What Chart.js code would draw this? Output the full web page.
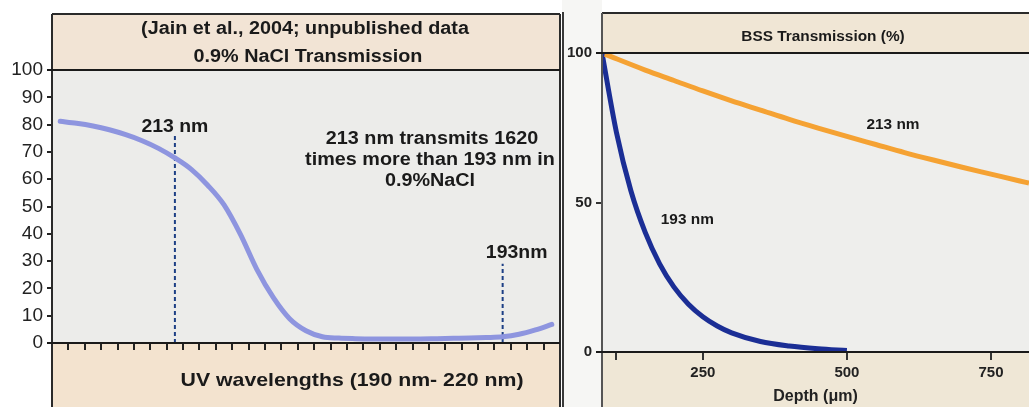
<!DOCTYPE html>
<html>
<head>
<meta charset="utf-8">
<script src="https://cdn.jsdelivr.net/npm/chart.js@4.4.1/dist/chart.umd.min.js"></script>
<style>
  html, body { margin: 0; padding: 0; background: #fff; overflow: hidden; }
  #wrap { position: relative; width: 1029px; height: 407px; }
  #left { position: absolute; left: 0; top: 0; }
  #right { position: absolute; left: 562px; top: 0; }
</style>
</head>
<body>
<div id="wrap">
  <canvas id="left" width="562" height="407" style="width:562px;height:407px"></canvas>
  <canvas id="right" width="467" height="407" style="width:467px;height:407px"></canvas>
</div>
<script>
// ---- left panel: 0.9% NaCl transmission vs wavelength (axis drawn 220 -> 190)
const wavelengths = [190, 191, 192, 193, 194, 195, 196, 197, 198, 199, 200,
                     201, 202, 203, 204, 205, 206, 207, 208, 209, 210,
                     211, 212, 213, 214, 215, 216, 217, 218, 219, 220];
const naclTransmission = [6.8, 4.8, 3.2, 2.3, 2.0, 1.8, 1.7, 1.6, 1.5, 1.5, 1.5,
                          1.5, 1.6, 1.8, 2.3, 4.5, 8.9, 16.7, 27.0, 39.8, 50.6,
                          57.8, 63.6, 67.8, 71.3, 74.1, 76.3, 78.1, 79.5, 80.5, 81.2];
const markerNm = [213, 193];
const markerTop = [76, 29];          // where the dashed lines stop (% value)
const markerText = ['213 nm', '193nm'];

// ---- right panel: BSS transmission vs depth
const depth213 = [80, 150, 200, 250, 300, 350, 400, 450, 500, 550, 600, 650, 700, 750, 800, 816];
const bss213 = [99.6, 94.3, 90.8, 87.3, 84.0, 80.9, 77.8, 74.9, 72.1, 69.4, 66.7, 64.2, 61.8, 59.5, 57.2, 56.5];
const depth193 = [75, 100, 125, 150, 175, 200, 225, 250, 275, 300, 350, 400, 450, 500];
const bss193 = [100, 73.5, 54, 40, 29.5, 21.7, 16, 11.8, 8.7, 6.4, 3.5, 2.0, 1.1, 0.5];
const depthTicks = [100, 250, 500, 750];
const depthLabels = ['', '250', '500', '750'];
const bssTicks = [0, 50, 100];

Chart.defaults.font.family = '"Liberation Sans", Arial, sans-serif';
Chart.defaults.color = '#1e1e1e';

// draw text squeezed/stretched horizontally (the scan is wider than tall)
function wideText(ctx, text, x, y, size, sx) {
  ctx.save();
  ctx.font = 'bold ' + size + 'px "Liberation Sans", Arial, sans-serif';
  ctx.fillStyle = '#1a1a1a';
  ctx.textAlign = 'center';
  ctx.textBaseline = 'middle';
  ctx.translate(x, y);
  ctx.scale(sx, 1);
  ctx.fillText(text, 0, 0);
  ctx.restore();
}

function line(ctx, x1, y1, x2, y2, color, w) {
  ctx.save();
  ctx.strokeStyle = color;
  ctx.lineWidth = w;
  ctx.beginPath();
  ctx.moveTo(x1, y1);
  ctx.lineTo(x2, y2);
  ctx.stroke();
  ctx.restore();
}

const leftDecor = {
  id: 'leftDecor',
  beforeDraw(chart) {
    const { ctx, chartArea: a } = chart;
    const w = a.right - a.left;
    ctx.save();
    ctx.fillStyle = '#f2e4d5';
    ctx.fillRect(a.left, 14, w, a.top - 14);
    ctx.fillStyle = '#ececea';
    ctx.fillRect(a.left, a.top, w, a.bottom - a.top);
    ctx.fillStyle = '#f3e3cf';
    ctx.fillRect(a.left, a.bottom, w, chart.height - a.bottom);
    ctx.restore();
  },
  beforeDatasetsDraw(chart) {
    const { ctx, scales: { x, y } } = chart;
    ctx.save();
    ctx.strokeStyle = '#1d3f85';
    ctx.lineWidth = 2;
    ctx.setLineDash([4, 3]);
    markerNm.forEach((nm, i) => {
      const px = x.getPixelForValue(wavelengths.indexOf(nm));
      ctx.beginPath();
      ctx.moveTo(px, y.getPixelForValue(0));
      ctx.lineTo(px, y.getPixelForValue(markerTop[i]));
      ctx.stroke();
    });
    ctx.restore();
  },
  afterDraw(chart) {
    const { ctx, chartArea: a, scales: { x, y } } = chart;
    const H = chart.height;
    // frame
    line(ctx, a.left, 14, a.right, 14, '#2a2a2a', 2);
    line(ctx, a.left, 14, a.left, H, '#2a2a2a', 2);
    line(ctx, a.right, 14, a.right, H, '#2a2a2a', 2);
    line(ctx, a.left - 5, a.top, a.right, a.top, '#1a1a1a', 2);
    line(ctx, a.left - 5, a.bottom, a.right, a.bottom, '#1a1a1a', 2);
    // header
    wideText(ctx, '(Jain et al., 2004; unpublished data', 305, 29, 18, 1.1);
    wideText(ctx, '0.9% NaCl Transmission', 308, 57, 18, 1.1);
    // marker labels
    const p213 = x.getPixelForValue(wavelengths.indexOf(markerNm[0]));
    const p193 = x.getPixelForValue(wavelengths.indexOf(markerNm[1]));
    wideText(ctx, markerText[0], p213, y.getPixelForValue(79), 18, 1.08);
    wideText(ctx, markerText[1], p193 + 14, y.getPixelForValue(33), 18, 1.08);
    // note
    wideText(ctx, '213 nm transmits 1620', 432, 139, 18, 1.1);
    wideText(ctx, 'times more than 193 nm in', 430, 160, 18, 1.1);
    wideText(ctx, '0.9%NaCl', 430, 181, 18, 1.1);
    // axis title
    wideText(ctx, 'UV wavelengths (190 nm- 220 nm)', 352, 381, 19, 1.12);
  }
};

new Chart(document.getElementById('left'), {
  type: 'line',
  data: {
    labels: wavelengths,
    datasets: [{
      data: naclTransmission,
      borderColor: '#8e95df',
      borderWidth: 5,
      pointRadius: 0,
      cubicInterpolationMode: 'monotone',
      borderCapStyle: 'round',
      fill: false
    }]
  },
  options: {
    responsive: false,
    animation: false,
    layout: { padding: { top: 70, right: 2, left: 0, bottom: 0 } },
    plugins: { legend: { display: false }, tooltip: { enabled: false } },
    scales: {
      x: {
        type: 'category',
        reverse: true,
        offset: true,
        grid: { offset: true, drawOnChartArea: false, drawTicks: true, tickLength: 7, color: '#222', lineWidth: 2 },
        border: { display: false },
        ticks: { display: false, autoSkip: false },
        afterFit: s => { s.height = 64; }
      },
      y: {
        min: 0,
        max: 100,
        ticks: { stepSize: 10, font: { size: 19 }, color: '#222', padding: 4 },
        grid: { drawOnChartArea: false, tickLength: 5, color: '#222', lineWidth: 2 },
        border: { display: false },
        afterFit: s => { s.width = 52; }
      }
    }
  },
  plugins: [leftDecor]
});

const rightDecor = {
  id: 'rightDecor',
  beforeDraw(chart) {
    const { ctx, chartArea: a } = chart;
    const w = a.right - a.left;
    ctx.save();
    ctx.fillStyle = '#f6f6f4';
    ctx.fillRect(0, 0, a.left, chart.height);
    ctx.fillStyle = '#f0e6d5';
    ctx.fillRect(a.left, 13, w, a.top - 13);
    ctx.fillStyle = '#eeeeec';
    ctx.fillRect(a.left, a.top, w, a.bottom - a.top);
    ctx.fillStyle = '#efe7d6';
    ctx.fillRect(a.left, a.bottom, w, chart.height - a.bottom);
    ctx.restore();
  },
  afterDraw(chart) {
    const { ctx, chartArea: a, scales: { x, y } } = chart;
    const H = chart.height;
    line(ctx, 1, 12, 1, H, '#3a3a3a', 2);
    line(ctx, a.left, 13, a.right, 13, '#2a2a2a', 2);
    line(ctx, a.left, 13, a.left, H, '#555', 2);
    line(ctx, a.left - 6, a.top, a.right, a.top, '#1a1a1a', 2);
    line(ctx, a.left - 6, a.bottom, a.right, a.bottom, '#1a1a1a', 2);
    wideText(ctx, 'BSS Transmission (%)', 261, 37, 14, 1.1);
    wideText(ctx, '213 nm', x.getPixelForValue(580), y.getPixelForValue(76), 14, 1.1);
    wideText(ctx, '193 nm', x.getPixelForValue(223), y.getPixelForValue(44), 14, 1.1);
  }
};

new Chart(document.getElementById('right'), {
  type: 'line',
  data: {
    datasets: [{
      data: depth213.map((d, i) => ({ x: d, y: bss213[i] })),
      borderColor: '#f5a233',
      borderWidth: 5,
      pointRadius: 0,
      cubicInterpolationMode: 'monotone',
      fill: false
    }, {
      data: depth193.map((d, i) => ({ x: d, y: bss193[i] })),
      borderColor: '#1b2e95',
      borderWidth: 5,
      pointRadius: 0,
      cubicInterpolationMode: 'monotone',
      fill: false
    }]
  },
  options: {
    responsive: false,
    animation: false,
    layout: { padding: { top: 53, right: 0, left: 0, bottom: 0 } },
    plugins: { legend: { display: false }, tooltip: { enabled: false } },
    scales: {
      x: {
        type: 'linear',
        min: 75,
        max: 816,
        afterBuildTicks: s => { s.ticks = depthTicks.map(v => ({ value: v })); },
        ticks: { callback: (v, i) => depthLabels[i], font: { size: 15, weight: 'bold' }, color: '#222', padding: 4, maxRotation: 0, autoSkip: false },
        grid: { drawOnChartArea: false, tickLength: 8, color: '#333', lineWidth: 2 },
        border: { display: false },
        title: { display: true, text: 'Depth (μm)', font: { size: 16, weight: 'bold' }, color: '#222', padding: { top: 0, bottom: 1 } },
        afterFit: s => { s.height = 55; }
      },
      y: {
        min: 0,
        max: 100,
        afterBuildTicks: s => { s.ticks = bssTicks.map(v => ({ value: v })); },
        ticks: { font: { size: 15, weight: 'bold' }, color: '#222', padding: 4 },
        grid: { drawOnChartArea: false, tickLength: 6, color: '#333', lineWidth: 2 },
        border: { display: false },
        afterFit: s => { s.width = 40; }
      }
    }
  },
  plugins: [rightDecor]
});
</script>
</body>
</html>
